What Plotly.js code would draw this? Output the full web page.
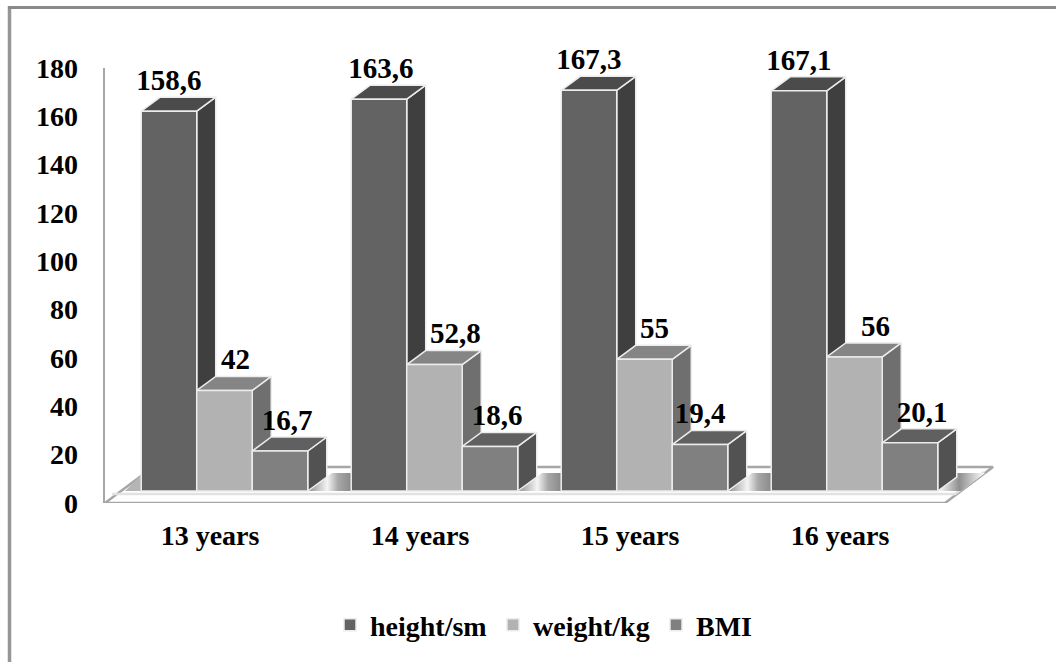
<!DOCTYPE html>
<html>
<head>
<meta charset="utf-8">
<script src="https://cdn.plot.ly/plotly-3.0.1.min.js"></script>
<style>html,body{margin:0;padding:0;background:#fff}#chart{width:1056px;height:662px}</style>
</head>
<body>
<div id="chart"></div>
<script>
const categories = ['13 years', '14 years', '15 years', '16 years'];
const seriesNames = ['height/sm', 'weight/kg', 'BMI'];
const heightSm = [158.6, 163.6, 167.3, 167.1];
const weightKg = [42, 52.8, 55, 56];
const bmi = [16.7, 18.6, 19.4, 20.1];
const yTicks = [0, 20, 40, 60, 80, 100, 120, 140, 160, 180];

// label nudges away from the bar centre, in pixels
const heightNudge = [0, 2, 0, 0];
const weightNudge = [11, 21, 10, 21];
const bmiNudge = [7, 7, 0, 12];

const frontColors = ['#636363', '#b2b2b2', '#808080'];
const sideColors = ['#3f3f3f', '#6f6f6f', '#525252'];
const topColors = ['#4b4b4b', '#858585', '#606060'];
const edge = '#ececec';
const axisGrey = '#a6a6a6';
const serif = 'Liberation Serif, Times New Roman, serif';

// geometry of the fake 3D scene, pixels
const L = 105, PW = 924, T = 68, PH = 435, B = 503;
const catPx = 210, axPxPerUnit = PH / 180, barPxPerUnit = 2.395, barBasePx = 491;
const X = p => (p - L) / catPx;
const YF = p => (B - p) / axPxPerUnit;
const groupOffset = 0.569, groupWidth = 0.793, barW = groupWidth / 3;
const dX = 19 / catPx, dV = 14 / barPxPerUnit;

const all = [heightSm, weightKg, bmi];
const nudges = [heightNudge, weightNudge, bmiNudge];
const traces = [];

function poly(xs, ys, color, yaxis, lineColor, extra) {
  return Object.assign({
    type: 'scatter', mode: 'lines', x: xs.concat(xs[0]), y: ys.concat(ys[0]),
    fill: 'toself', fillcolor: color, yaxis: yaxis, xaxis: 'x',
    line: {color: lineColor || edge, width: 1.5}, showlegend: false, hoverinfo: 'skip',
    cliponaxis: false
  }, extra || {});
}

// floor
traces.push(poly(
  [X(105), X(945), X(993), X(153)],
  [YF(503), YF(503), YF(467), YF(467)],
  '#ffffff', 'y', axisGrey, {line: {color: axisGrey, width: 2.5}}));
traces.push({type: 'scatter', mode: 'lines', x: [X(112), X(955), X(984)], y: [YF(494), YF(494), YF(472)],
  yaxis: 'y', xaxis: 'x', line: {color: '#e2e2e2', width: 2.5}, showlegend: false, hoverinfo: 'skip'});

// floor shading
const shade = (x0, x1, x2, x3) => poly(
  [X(x0), X(x1), X(x2), X(x3)], [YF(491), YF(491), YF(473), YF(473)],
  '#ffffff', 'y', 'rgba(0,0,0,0)',
  {line: {width: 0}, fillgradient: {type: 'horizontal',
    colorscale: [[0, '#8f8f8f'], [0.45, '#f4f4f4'], [0.7, '#a8a8a8'], [1, '#8a8a8a']]}});
traces.push(poly([X(125), X(141), X(141)], [YF(491), YF(491), YF(475)], '#b5b5b5', 'y', 'rgba(0,0,0,0)', {line: {width: 0}}));
for (let k = 0; k < 3; k++) {
  const s = 308 + k * catPx;
  traces.push(shade(s, s + 43, s + 43, s + 24));
}
traces.push(poly([X(938), X(961), X(985), X(957)], [YF(491), YF(491), YF(473), YF(473)], '#fff', 'y', 'rgba(0,0,0,0)',
  {line: {width: 0}, fillgradient: {type: 'horizontal', colorscale: [[0, '#ffffff'], [0.45, '#8f8f8f'], [1, '#ffffff']]}}));

// sides and tops of the boxes
all.forEach((vals, j) => {
  vals.forEach((v, k) => {
    const xl = k + groupOffset - groupWidth / 2 + j * barW;
    const xr = xl + barW;
    traces.push(poly([xr, xr + dX, xr + dX, xr], [0, dV, v + dV, v], sideColors[j], 'y2'));
    traces.push(poly([xl, xr, xr + dX, xl + dX], [v, v, v + dV, v + dV], topColors[j], 'y2'));
  });
});

// front faces
all.forEach((vals, j) => {
  traces.push({
    type: 'bar', name: seriesNames[j], x: categories.map((c, k) => k + groupOffset), y: vals,
    xaxis: 'x', yaxis: 'y3', hoverinfo: 'skip',
    marker: {color: frontColors[j], line: {color: edge, width: 1.5}}
  });
});

// data labels
all.forEach((vals, j) => {
  traces.push({
    type: 'scatter', mode: 'text', xaxis: 'x', yaxis: 'y3', showlegend: false, hoverinfo: 'skip',
    x: vals.map((v, k) => k + groupOffset - groupWidth / 2 + (j + 0.5) * barW + nudges[j][k] / catPx),
    y: vals.map(v => v + dV),
    text: vals.map(v => String(v).replace('.', ',')),
    textposition: 'top center', cliponaxis: false,
    textfont: {family: serif, size: 29, color: '#000', weight: 700}
  });
});

const y2Range = [(barBasePx - B) / barPxPerUnit, (barBasePx - T) / barPxPerUnit];
const hidden = {overlaying: 'y', range: y2Range, visible: false, fixedrange: true};

const layout = {
  width: 1056, height: 662,
  margin: {l: L, t: T, r: 1056 - L - PW, b: 662 - B, pad: 0, autoexpand: false},
  paper_bgcolor: '#fff', plot_bgcolor: 'rgba(0,0,0,0)',
  barmode: 'group', bargap: 0.207, bargroupgap: 0,
  showlegend: true,
  legend: {orientation: 'h', x: (330 - L) / PW, xanchor: 'left', y: (B - 600) / PH, yanchor: 'top',
    font: {family: serif, size: 28, color: '#000', weight: 700},
    itemwidth: 30, entrywidth: 118, entrywidthmode: 'pixels', tracegroupgap: 0, itemclick: false, itemdoubleclick: false,
    bgcolor: 'rgba(0,0,0,0)'},
  xaxis: {range: [0, PW / catPx], tickmode: 'array', tickvals: categories.map((c, k) => k + 0.5), ticktext: categories,
    showgrid: false, zeroline: false, showline: false, ticks: '', ticklabelstandoff: 13, anchor: 'y',
    tickfont: {family: serif, size: 28, color: '#000', weight: 700}, fixedrange: true},
  yaxis: {range: [0, 180], tickmode: 'array', tickvals: yTicks, showgrid: false, zeroline: false,
    showline: true, linecolor: axisGrey, linewidth: 2.5, ticks: '', ticklabelstandoff: 19, ticklabelshift: 0,
    tickfont: {family: serif, size: 28, color: '#000', weight: 700}, fixedrange: true},
  yaxis2: Object.assign({}, hidden),
  yaxis3: Object.assign({}, hidden),
  shapes: [
    {type: 'line', xref: 'paper', yref: 'paper', x0: (9.5 - L) / PW, x1: (9.5 - L) / PW, y0: (B - 6) / PH, y1: (B - 662) / PH,
      line: {color: '#969696', width: 3.5}},
    {type: 'line', xref: 'paper', yref: 'paper', x0: (8 - L) / PW, x1: (1056 - L) / PW, y0: (B - 7.5) / PH, y1: (B - 7.5) / PH,
      line: {color: '#8a8a8a', width: 3}}
  ]
};
Plotly.newPlot('chart', traces, layout, {displayModeBar: false, staticPlot: true});
</script>
</body>
</html>
